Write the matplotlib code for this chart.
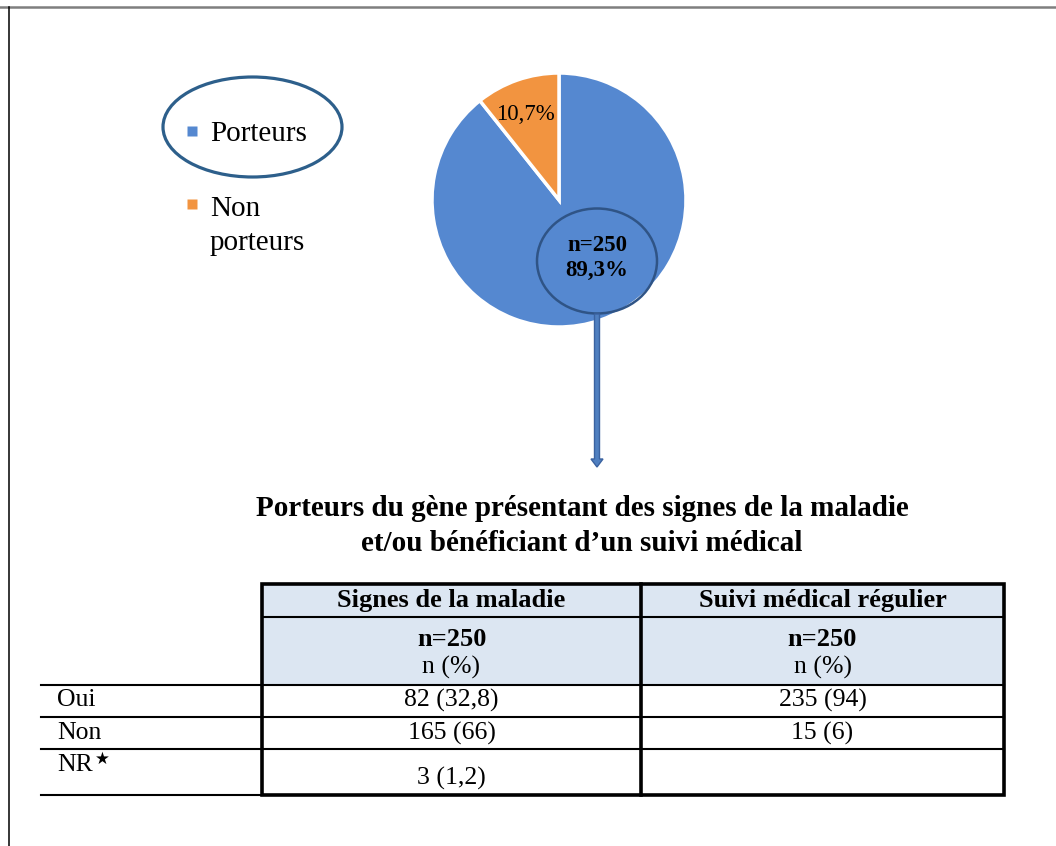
import matplotlib.pyplot as plt
from matplotlib.patches import Ellipse, Rectangle, FancyArrow

# data
pie_labels = ["Porteurs", "Non\nporteurs"]
pie_values = [89.3, 10.7]
pie_colors = ["#5588d0", "#f29440"]
n_total = 250

title = "Porteurs du gène présentant des signes de la maladie\net/ou bénéficiant d’un suivi médical"
col_headers = ["Signes de la maladie", "Suivi médical régulier"]
col_n = ["n=250", "n=250"]
row_labels = ["Oui", "Non", "NR"]
signes = ["82 (32,8)", "165 (66)", "3 (1,2)"]
suivi = ["235 (94)", "15 (6)", ""]

serif = ["Liberation Serif", "DejaVu Serif"]
W, H = 1056, 846
fig = plt.figure(figsize=(W / 100, H / 100), dpi=100)

# pie (drawn below the overlay axes)
cx, cy, r = 559, 200, 127
pax = fig.add_axes([(cx - r) / W, (H - cy - r) / H, 2 * r / W, 2 * r / H])
pax.pie(pie_values, colors=pie_colors, startangle=90, counterclock=False,
        wedgeprops=dict(edgecolor="white", linewidth=2.5))
pax.set_xlim(-1, 1)
pax.set_ylim(-1, 1)
pax.axis("off")

ax = fig.add_axes([0, 0, 1, 1])
ax.set_zorder(2)
ax.patch.set_alpha(0)
ax.set_xlim(0, W)
ax.set_ylim(H, 0)
ax.axis("off")

# page frame
ax.plot([0, W], [7.5, 7.5], color="#7f7f7f", lw=1.8)
ax.plot([9, 9], [7.5, H], color="black", lw=1.1)

ax.text(525, 114, "%s%%" % str(pie_values[1]).replace(".", ","), fontsize=16.5, family=serif,
        ha="center", va="center")
ax.add_patch(Ellipse((597, 261), 120, 105, fill=False, ec="#2f5486", lw=1.8))
ax.text(597, 258, "n=%d\n%s%%" % (n_total, str(pie_values[0]).replace(".", ",")),
        fontsize=16.5, family=serif, weight="bold", ha="center", va="center", linespacing=1.2)
ax.add_patch(FancyArrow(597, 314, 0, 145, width=5, head_width=12, head_length=8,
                        fc="#4f7fc0", ec="#3a62a0", lw=1))

# legend
ax.add_patch(Ellipse((252.5, 127), 179, 100, fill=False, ec="#2d5f8b", lw=2.3))
ax.plot(192, 131, marker="s", ms=6.5, color=pie_colors[0], mec="none")
ax.text(210, 134, pie_labels[0], fontsize=21, family=serif, va="center")
ax.plot(192, 204, marker="s", ms=6.5, color=pie_colors[1], mec="none")
ax.text(210, 226, pie_labels[1], fontsize=21, family=serif, va="center", linespacing=1.35)

# title
ax.text(582, 526, title, fontsize=21, family=serif, weight="bold", ha="center",
        va="center", linespacing=1.4)

# table
x0, xm, x1, xl = 262, 641, 1004, 41
ys = [584, 617, 685, 717, 749, 795]
hdr = "#dce6f2"
ax.add_patch(Rectangle((x0, ys[0]), x1 - x0, ys[2] - ys[0], fc=hdr, ec="none"))
for y in ys[1:5]:
    ax.plot([x0, x1], [y, y], color="black", lw=1.5)
for y in ys[2:]:
    ax.plot([xl, x0], [y, y], color="black", lw=1.5)
ax.add_patch(Rectangle((x0, ys[0]), x1 - x0, ys[5] - ys[0], fill=False, ec="black", lw=2.6))
ax.plot([xm, xm], [ys[0], ys[5]], color="black", lw=2.6)

fs = 18.5
cols = [(x0 + xm) / 2, (xm + x1) / 2]
for i, c in enumerate(cols):
    ax.text(c, 601, col_headers[i], fontsize=19, family=serif, weight="bold", ha="center", va="center")
    ax.text(c, 639, col_n[i], fontsize=19, family=serif, weight="bold", ha="center", va="center")
    ax.text(c, 667, "n (%)", fontsize=fs, family=serif, ha="center", va="center")

row_y = [700, 733, 778]
lab_y = [700, 733, 765]
for i in range(3):
    ax.text(57, lab_y[i], row_labels[i], fontsize=fs, family=serif, va="center")
    ax.text(cols[0], row_y[i], signes[i], fontsize=fs, family=serif, ha="center", va="center")
    ax.text(cols[1], row_y[i], suivi[i], fontsize=fs, family=serif, ha="center", va="center")
ax.text(95, 759, "★", fontsize=12, family=["DejaVu Sans"], va="center")

fig.savefig("out.png", dpi=100)
